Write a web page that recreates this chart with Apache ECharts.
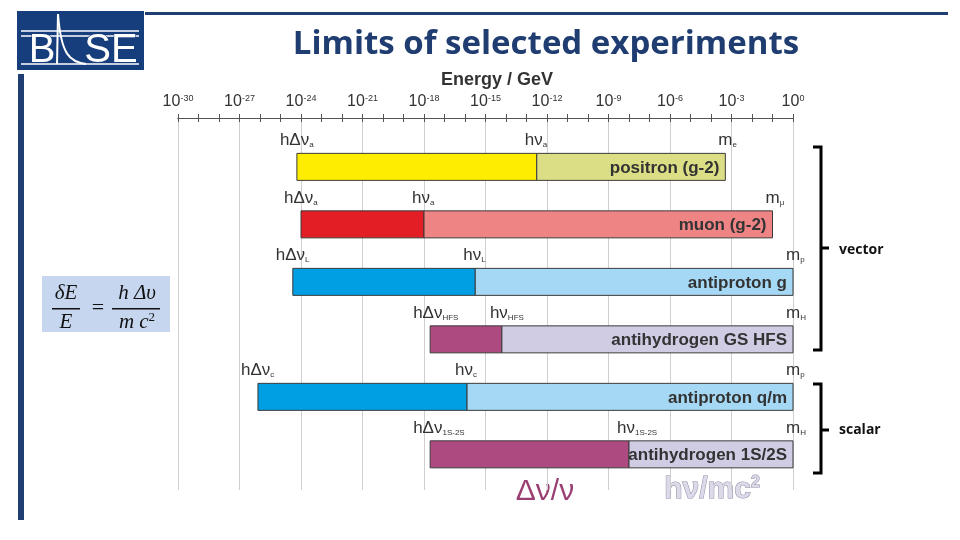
<!DOCTYPE html>
<html>
<head>
<meta charset="utf-8">
<script src="https://cdn.jsdelivr.net/npm/echarts@6/dist/echarts.min.js"></script>
<style>
  html, body { margin: 0; padding: 0; background: #fff; }
  #chart { width: 960px; height: 540px; }
</style>
</head>
<body>
<div id="chart"></div>
<script>
// values are log10(E / GeV)
var experiments = ['positron (g-2)', 'muon (g-2)', 'antiproton g', 'antihydrogen GS HFS', 'antiproton q/m', 'antihydrogen 1S/2S']
var resolutionExp = [-24.2, -24.0, -24.4, -17.7, -26.1, -17.7]   // h Δν
var transitionExp = [-12.5, -18.0, -15.5, -14.2, -15.9, -8.0]    // h ν
var massExp = [-3.3, -1.0, 0, 0, 0, 0]                            // m c²
var nuSubs = ['a', 'a', 'L', 'HFS', 'c', '1S-2S']
var deltaSubs = ['a', 'a', 'L', 'HFS', 'c', '1S-2S']
var massSubs = ['e', 'μ', 'p', 'H', 'p', 'H']
var tickExps = [-30, -27, -24, -21, -18, -15, -12, -9, -6, -3, 0]

var darkColors = ['#FFED00', '#E31E24', '#009FE3', '#AD4A80', '#009FE3', '#AD4A80']
var lightColors = ['#DBDE84', '#EE8484', '#A5D8F4', '#D0CCE4', '#A5D8F4', '#D0CCE4']

var FONT = '"Liberation Sans", Arial, sans-serif'
var chart = echarts.init(document.getElementById('chart'))

var rows = experiments.map(function (name, i) {
  return [resolutionExp[i], transitionExp[i], massExp[i], i]
})

function symLabel(main, sub, x, y) {
  return {
    type: 'text',
    style: {
      text: '{m|' + main + '}{s|' + sub + '}',
      x: x, y: y,
      align: 'left', verticalAlign: 'middle',
      fill: '#333',
      rich: {
        m: { fontSize: 17, fontFamily: FONT, fill: '#333' },
        s: { fontSize: 8, fontFamily: FONT, fill: '#333', verticalAlign: 'bottom' }
      }
    }
  }
}

function renderRow(params, api) {
  var i = api.value(3)
  var pLow = api.coord([api.value(0), i])
  var pMid = api.coord([api.value(1), i])
  var pHigh = api.coord([api.value(2), i])
  var h = 27
  var y0 = pLow[1] - h / 2
  var ly = y0 - 13
  return {
    type: 'group',
    children: [
      { type: 'rect', shape: { x: pLow[0], y: y0, width: pMid[0] - pLow[0], height: h },
        style: { fill: darkColors[i], stroke: '#3a3a3a', lineWidth: 1 } },
      { type: 'rect', shape: { x: pMid[0], y: y0, width: pHigh[0] - pMid[0], height: h },
        style: { fill: lightColors[i], stroke: '#3a3a3a', lineWidth: 1 } },
      { type: 'text', style: { text: experiments[i], x: pHigh[0] - 6, y: pLow[1] + 1,
        align: 'right', verticalAlign: 'middle', fill: '#333',
        font: 'bold 17px ' + FONT } },
      symLabel('hΔν', deltaSubs[i], pLow[0] - 17, ly),
      symLabel('hν', nuSubs[i], pMid[0] - 12, ly),
      symLabel('m', massSubs[i], pHigh[0] - 7, ly)
    ]
  }
}

var axisBase = {
  type: 'value',
  position: 'top',
  min: -30,
  max: 0,
  interval: 3,
  axisLine: { show: true, onZero: false, lineStyle: { color: '#555', width: 1 } }
}

function bracket(top, bottom) {
  return {
    type: 'polyline',
    shape: { points: [[813, top], [821, top], [821, bottom], [813, bottom]] },
    style: { stroke: '#000', lineWidth: 3, fill: null }
  }
}

chart.setOption({
  animation: false,
  grid: { left: 178, right: 167, top: 118, bottom: 50 },
  xAxis: [
    Object.assign({}, axisBase, {
      axisTick: { show: true, inside: false, length: 4, lineStyle: { color: '#555' } },
      minorTick: { show: true, splitNumber: 3, length: 4, lineStyle: { color: '#555' } },
      splitLine: { show: true, lineStyle: { color: '#cfcfcf', width: 1 } },
      axisLabel: {
        margin: 8,
        showMinLabel: true,
        showMaxLabel: true,
        formatter: function (v) {
          return tickExps.indexOf(v) >= 0 ? '{b|10}{s|' + v + '}' : ''
        },
        rich: {
          b: { fontSize: 16, fontFamily: FONT, color: '#333' },
          s: { fontSize: 9, fontFamily: FONT, color: '#333', verticalAlign: 'top' }
        }
      }
    }),
    Object.assign({}, axisBase, {
      axisTick: { show: true, inside: true, length: 4, lineStyle: { color: '#555' } },
      minorTick: { show: true, splitNumber: 3, length: 4, lineStyle: { color: '#555' } },
      splitLine: { show: false },
      axisLabel: { show: false }
    })
  ],
  yAxis: { type: 'value', inverse: true, min: -0.85, max: 5.62, show: false },
  series: [{
    type: 'custom',
    xAxisIndex: 0,
    renderItem: renderRow,
    encode: { x: [0, 1, 2], y: 3 },
    data: rows
  }],
  graphic: [
    // header rule and side bar
    { type: 'rect', shape: { x: 145, y: 12, width: 803, height: 3 }, style: { fill: '#1F3F72' } },
    { type: 'rect', shape: { x: 18, y: 74, width: 6, height: 446 }, style: { fill: '#1F3F72' } },
    // logo
    { type: 'rect', shape: { x: 17, y: 11, width: 127, height: 59 }, style: { fill: '#173E7C' } },
    { type: 'polyline', shape: { points: [[21, 31], [139, 31]] }, style: { stroke: '#fff', lineWidth: 1.5 } },
    { type: 'polyline', shape: { points: [[21, 36], [139, 36]] }, style: { stroke: '#fff', lineWidth: 1.5 } },
    { type: 'polyline', shape: { points: [[21, 64], [139, 64]] }, style: { stroke: '#fff', lineWidth: 1.5 } },
    { type: 'text', style: { text: 'B', x: 42, y: 51, align: 'center', verticalAlign: 'middle',
      font: '40px ' + FONT, fill: '#fff', stroke: '#173E7C', lineWidth: 1 } },
    { type: 'text', style: { text: 'SE', x: 111, y: 51, align: 'center', verticalAlign: 'middle',
      font: '40px ' + FONT, fill: '#fff', stroke: '#173E7C', lineWidth: 1 } },
    { type: 'bezierCurve', shape: { x1: 58, y1: 14, x2: 86, y2: 64, cpx1: 61, cpy1: 55, cpx2: 70, cpy2: 62 },
      style: { stroke: '#fff', lineWidth: 2, fill: null } },
    { type: 'polyline', shape: { points: [[58, 14], [57, 64]] }, style: { stroke: '#fff', lineWidth: 2 } },
    // title
    { type: 'text', style: { text: 'Limits of selected experiments', x: 546, y: 45,
      align: 'center', verticalAlign: 'middle', font: 'bold 33px "Open Sans", sans-serif', fill: '#1F3D70' } },
    { type: 'text', style: { text: 'Energy / GeV', x: 497, y: 80,
      align: 'center', verticalAlign: 'middle', font: 'bold 18px ' + FONT, fill: '#333' } },
    // formula box
    { type: 'rect', shape: { x: 42, y: 276, width: 128, height: 56 }, style: { fill: '#C6D6EE' } },
    { type: 'text', style: { text: 'δE', x: 66, y: 293, align: 'center', verticalAlign: 'middle',
      font: 'italic 21px "Liberation Serif", serif', fill: '#111' } },
    { type: 'text', style: { text: 'E', x: 66, y: 322, align: 'center', verticalAlign: 'middle',
      font: 'italic 21px "Liberation Serif", serif', fill: '#111' } },
    { type: 'rect', shape: { x: 52, y: 308, width: 28, height: 1.5 }, style: { fill: '#111' } },
    { type: 'text', style: { text: '=', x: 98, y: 308, align: 'center', verticalAlign: 'middle',
      font: '22px "Liberation Serif", serif', fill: '#111' } },
    { type: 'text', style: { text: 'h Δυ', x: 137, y: 293, align: 'center', verticalAlign: 'middle',
      font: 'italic 21px "Liberation Serif", serif', fill: '#111' } },
    { type: 'text', style: { text: '{a|m c}{b|2}', x: 137, y: 322, align: 'center', verticalAlign: 'middle',
      rich: { a: { font: 'italic 21px "Liberation Serif", serif', fill: '#111' },
              b: { font: '13px "Liberation Serif", serif', fill: '#111', verticalAlign: 'top' } } } },
    { type: 'rect', shape: { x: 112, y: 308, width: 48, height: 1.5 }, style: { fill: '#111' } },
    // brackets
    bracket(147, 350),
    { type: 'polyline', shape: { points: [[821, 248], [829, 248]] }, style: { stroke: '#000', lineWidth: 3 } },
    { type: 'text', style: { text: 'vector', x: 839, y: 250, align: 'left', verticalAlign: 'middle',
      font: 'bold 14px "Open Sans", sans-serif', fill: '#111' } },
    bracket(384, 473),
    { type: 'polyline', shape: { points: [[821, 430], [829, 430]] }, style: { stroke: '#000', lineWidth: 3 } },
    { type: 'text', style: { text: 'scalar', x: 839, y: 430, align: 'left', verticalAlign: 'middle',
      font: 'bold 14px "Open Sans", sans-serif', fill: '#111' } },
    // bottom legend words
    { type: 'text', style: { text: 'Δν/ν', x: 545, y: 492, align: 'center', verticalAlign: 'middle',
      font: '30px ' + FONT, fill: '#9A3F72' } },
    { type: 'text', style: { text: '{a|hν/mc}{b|2}', x: 712, y: 490, align: 'center', verticalAlign: 'middle',
      rich: { a: { font: 'bold 30px ' + FONT, fill: '#DCDAE8', stroke: '#8E8AA6', lineWidth: 1 },
              b: { font: 'bold 16px ' + FONT, fill: '#DCDAE8', stroke: '#8E8AA6', lineWidth: 1, verticalAlign: 'top' } } } }
  ]
})
</script>
</body>
</html>
